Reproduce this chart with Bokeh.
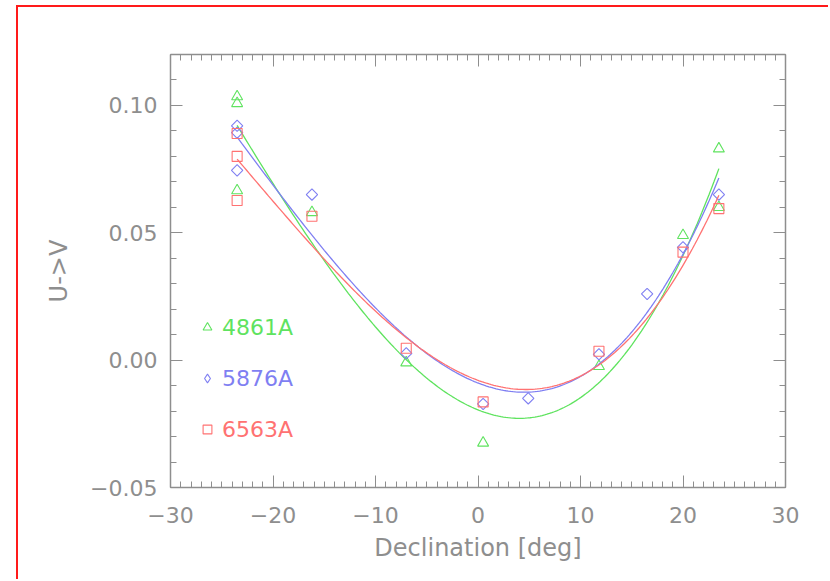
import numpy as np
from bokeh.plotting import figure
from bokeh.models import Range1d, LinearAxis, FixedTicker, Legend, LegendItem
from bokeh.embed import file_html
from bokeh.resources import INLINE

# U->V colour index against declination, for three emission lines
dec_4861 = [-23.5, -23.5, -23.5, -16.2, -7.0, 0.5, 11.8, 20.0, 23.5, 23.5]
uv_4861 = [0.1035, 0.1008, 0.0666, 0.058, -0.001, -0.0325, -0.0024, 0.049, 0.083, 0.060]

dec_5876 = [-23.5, -23.5, -23.5, -16.2, -7.0, 0.5, 4.9, 11.8, 16.5, 20.0, 23.5]
uv_5876 = [0.092, 0.0893, 0.0745, 0.065, 0.0027, -0.0172, -0.015, 0.0023, 0.026, 0.0443, 0.065]

dec_6563 = [-23.5, -23.5, -23.5, -16.2, -7.0, 0.5, 11.8, 20.0, 23.5]
uv_6563 = [0.089, 0.080, 0.0627, 0.0565, 0.0047, -0.0164, 0.0035, 0.0424, 0.0595]

series_names = ["4861A", "5876A", "6563A"]

x_ticks = [-30, -20, -10, 0, 10, 20, 30]
x_tick_labels = ["\u221230", "\u221220", "\u221210", "0", "10", "20", "30"]
y_ticks = [-0.05, 0.0, 0.05, 0.10]
y_tick_labels = ["\u22120.05", "0.00", "0.05", "0.10"]

GREEN = "#5fe35f"
BLUE = "#7f7ff2"
RED = "#ff7272"
GRAY = "#8e8e8e"
FONT = "DejaVu Sans"

p = figure(width=812, height=574, output_backend="svg", toolbar_location=None,
           x_range=Range1d(-30, 30), y_range=Range1d(-0.05, 0.12),
           x_axis_location=None, y_axis_location=None,
           min_border_left=152, min_border_right=45,
           min_border_top=47, min_border_bottom=94)
p.styles = {"margin-left": "16px", "margin-top": "5px",
            "border-left": "2px solid #ff1a1a", "border-top": "2px solid #ff1a1a"}
p.outline_line_color = None
p.grid.visible = False
p.background_fill_color = "white"
p.border_fill_color = "white"

xt = FixedTicker(ticks=x_ticks, minor_ticks=list(range(-30, 31)))
yt = FixedTicker(ticks=y_ticks,
                 minor_ticks=[round(-0.05 + 0.01 * i, 2) for i in range(18)])


def style_axis(ax, ticks, labels):
    ax.axis_line_color = GRAY
    ax.axis_line_width = 1.5
    ax.major_tick_line_color = GRAY
    ax.minor_tick_line_color = GRAY
    ax.major_tick_in = 12
    ax.major_tick_out = 0
    ax.minor_tick_in = 6
    ax.minor_tick_out = 0
    if labels is None:
        # mirrored frame side: ticks only, no numbers
        ax.major_label_overrides = {t: "" for t in ticks}
        ax.major_label_standoff = 0
    else:
        ax.major_label_overrides = {t: l for t, l in zip(ticks, labels)}
        ax.major_label_text_font = FONT
        ax.major_label_text_font_size = "22px"
        ax.major_label_text_color = GRAY
        ax.axis_label_text_font = FONT
        ax.axis_label_text_font_style = "normal"
        ax.axis_label_text_color = GRAY


bottom = LinearAxis(ticker=xt, axis_label="Declination [deg]")
style_axis(bottom, x_ticks, x_tick_labels)
bottom.major_label_standoff = 19
bottom.axis_label_standoff = 8
bottom.axis_label_text_font_size = "24px"

left = LinearAxis(ticker=yt, axis_label="U->V")
style_axis(left, y_ticks, y_tick_labels)
left.major_label_standoff = 13
left.axis_label_standoff = 14
left.axis_label_text_font_size = "24px"

top = LinearAxis(ticker=xt)
style_axis(top, x_ticks, None)
right = LinearAxis(ticker=yt)
style_axis(right, y_ticks, None)

p.add_layout(bottom, "below")
p.add_layout(left, "left")
p.add_layout(top, "above")
p.add_layout(right, "right")

series = [
    (dec_4861, uv_4861, GREEN, dict(marker="triangle", size=11, angle=0.0), "triangle"),
    (dec_5876, uv_5876, BLUE, dict(marker="square", size=8, angle=np.pi / 4), "diamond"),
    (dec_6563, uv_6563, RED, dict(marker="square", size=10, angle=0.0), "square"),
]

for i, (xs, ys, color, mk, key_marker) in enumerate(series):
    xs = np.asarray(xs, dtype=float)
    ys = np.asarray(ys, dtype=float)
    # cubic least-squares fit across the observed declinations
    coef = np.polyfit(xs, ys, 3)
    xf = np.linspace(xs.min(), xs.max(), 200)
    p.line(xf, np.polyval(coef, xf), line_color=color, line_width=1.3)
    p.scatter(xs, ys, marker=mk["marker"], size=mk["size"], angle=mk["angle"],
              line_color=color, fill_alpha=0, line_width=1.1)

    # legend key renderer (NaN position, so only the key itself is drawn)
    key = p.scatter(x=[np.nan], y=[np.nan], marker=key_marker,
                    line_color=color, fill_alpha=0, line_width=1.1)
    leg = Legend(items=[LegendItem(label=series_names[i], renderers=[key], index=0)],
                 location=(26, 145 - 51 * i), padding=0, margin=0, spacing=0,
                 glyph_width=22, glyph_height=30, label_height=30,
                 label_standoff=4, border_line_color=None, background_fill_alpha=0,
                 label_text_font=FONT, label_text_font_size="22px",
                 label_text_color=color)
    p.add_layout(leg, "center")

open("out.html", "w").write(file_html(p, INLINE))
